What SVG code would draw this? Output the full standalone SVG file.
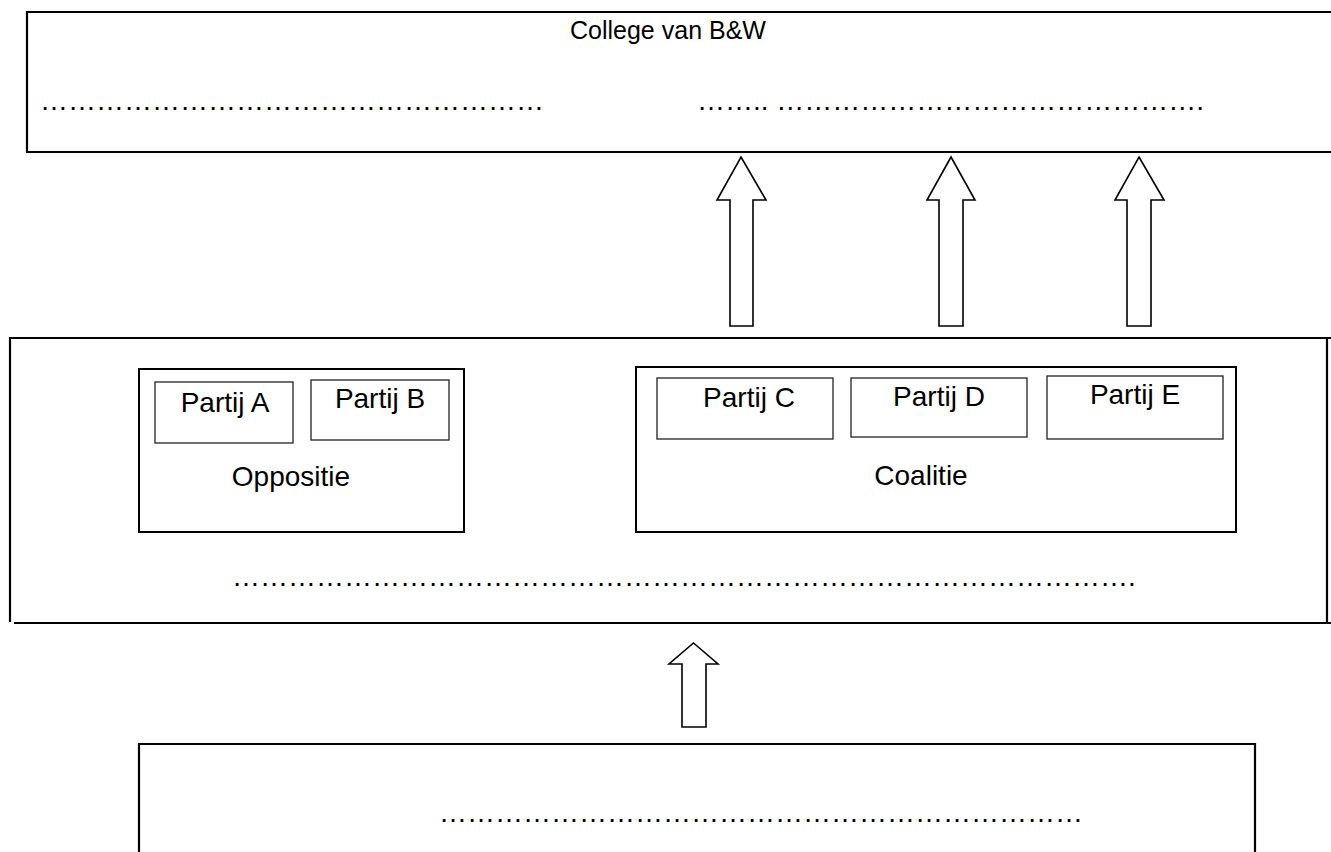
<svg xmlns="http://www.w3.org/2000/svg" width="1331" height="852" viewBox="0 0 1331 852">
<style>
  text { font-family: "Liberation Sans", Arial, sans-serif; font-size: 28px; fill: #000; }
  .mid { text-anchor: middle; }
  .title { font-size: 25px; }
  .outer { fill: none; stroke: #000; stroke-width: 2.2; }
  .group { fill: #fff; stroke: #000; stroke-width: 2; }
  .party { fill: #fff; stroke: #222; stroke-width: 1.3; }
  .arrow { fill: #fff; stroke: #000; stroke-width: 1.6; stroke-linejoin: miter; }
</style>
<rect width="1331" height="852" fill="#fff"/>

<g id="college">
  <path class="outer" d="M1331,12 H27 V152 H1331"/>
  <text class="title" x="570" y="39">College van B&amp;W</text>
  <text x="40" y="110">&#8230;&#8230;&#8230;&#8230;&#8230;&#8230;&#8230;&#8230;&#8230;&#8230;&#8230;&#8230;&#8230;&#8230;&#8230;&#8230;&#8230;&#8230;</text>
  <text x="697" y="110">&#8230;&#8230;.. &#8230;&#8230;&#8230;&#8230;&#8230;&#8230;&#8230;&#8230;&#8230;&#8230;&#8230;&#8230;&#8230;&#8230;&#8230;.</text>
</g>

<g id="gemeenteraad">
  <path class="outer" d="M1331,338 H10 V622"/>
  <path class="outer" d="M14,623 H1331"/>
  <path class="outer" d="M1327,338 V623"/>
  <text x="232" y="586">&#8230;&#8230;&#8230;&#8230;&#8230;&#8230;&#8230;&#8230;&#8230;&#8230;&#8230;&#8230;&#8230;&#8230;&#8230;&#8230;&#8230;&#8230;&#8230;&#8230;&#8230;&#8230;&#8230;&#8230;&#8230;&#8230;&#8230;&#8230;&#8230;&#8230;&#8230;&#8230;.</text>
</g>

<g id="oppositie">
  <rect class="group" x="139" y="369" width="325" height="163"/>
  <text class="mid" x="291" y="486">Oppositie</text>
</g>
<g id="partij-a">
  <rect class="party" x="155" y="382" width="138" height="61"/>
  <text class="mid" x="225" y="412">Partij A</text>
</g>
<g id="partij-b">
  <rect class="party" x="311" y="380" width="138" height="60"/>
  <text class="mid" x="380" y="408">Partij B</text>
</g>

<g id="coalitie">
  <rect class="group" x="636" y="367" width="600" height="165"/>
  <text class="mid" x="921" y="485">Coalitie</text>
</g>
<g id="partij-c">
  <rect class="party" x="657" y="378" width="176" height="61"/>
  <text class="mid" x="749" y="407">Partij C</text>
</g>
<g id="partij-d">
  <rect class="party" x="851" y="378" width="176" height="59"/>
  <text class="mid" x="939" y="406">Partij D</text>
</g>
<g id="partij-e">
  <rect class="party" x="1047" y="376" width="176" height="63"/>
  <text class="mid" x="1135" y="404">Partij E</text>
</g>

<g id="kiezers">
  <path class="outer" d="M139,852 V744 H1255 V852"/>
  <text x="439" y="822">&#8230;&#8230;&#8230;&#8230;&#8230;&#8230;&#8230;&#8230;&#8230;&#8230;&#8230;&#8230;&#8230;&#8230;&#8230;&#8230;&#8230;&#8230;&#8230;&#8230;&#8230;&#8230;&#8230;</text>
</g>

<g id="connectors">
  <polygon class="arrow" points="741,157 766,200 753,200 753,326 730,326 730,200 717,200"/>
  <polygon class="arrow" points="951,157 975,200 963,200 963,326 939,326 939,200 927,200"/>
  <polygon class="arrow" points="1139,157 1164,200 1151,200 1151,326 1127,326 1127,200 1115,200"/>
  <polygon class="arrow" points="693.5,643 718,664 706,664 706,727 682,727 682,664 669,664"/>
</g>
</svg>
